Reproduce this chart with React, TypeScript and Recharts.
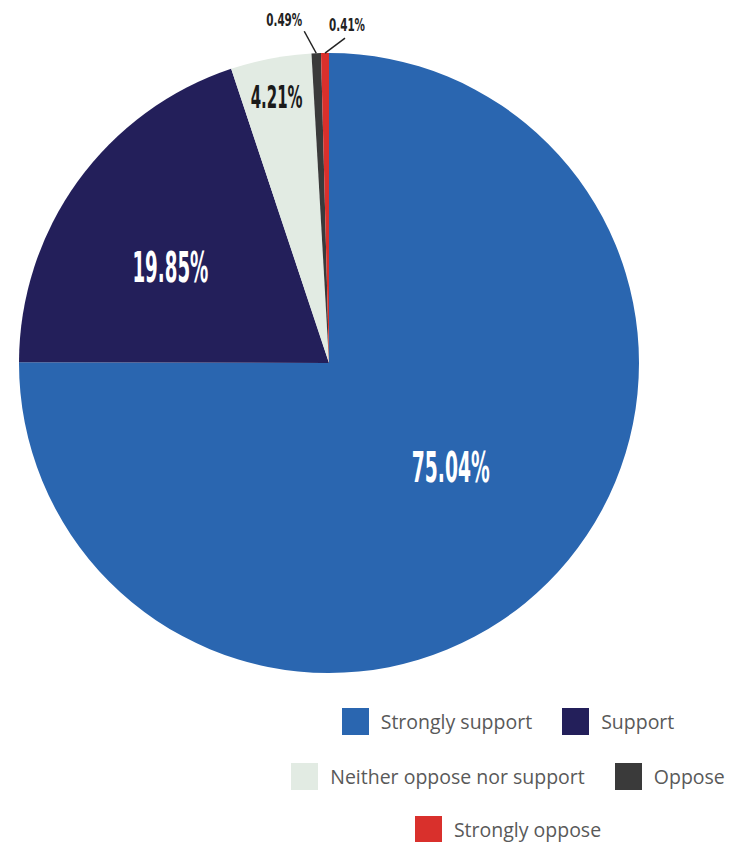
import { PieChart, Pie, Cell, Legend } from "recharts";

const categories = [
  "Strongly support",
  "Support",
  "Neither oppose nor support",
  "Oppose",
  "Strongly oppose",
];
const shares = [75.04, 19.85, 4.21, 0.49, 0.41];
const colors = ["#2a66b0", "#231f5a", "#e2ebe3", "#3a3a3a", "#d9302c"];

// legend rows as laid out in the original
const legendRows = [[0, 1], [2, 3], [4]];

const data = categories.map((name, i) => ({ name, value: shares[i] }));

const RADIAN = Math.PI / 180;
const labelFont =
  "'Liberation Sans Narrow', 'DejaVu Sans Condensed', 'Arial Narrow', sans-serif";

// label styling per slice: radius factor + angle nudge (inside), size, width, colour
const inside = [
  { r: 0.518, da: 4.4, size: 42, w: 78, fill: "#ffffff" },
  { r: 0.598, da: 4.7, size: 42, w: 76, fill: "#ffffff" },
  { r: 0.876, da: 0.3, size: 32, w: 52, fill: "#1a1a1a" },
];
// outside leader labels: line offset from rim, label offset from line end
const outside: Record<number, { dx: number; dy: number; lx: number; ly: number }> = {
  3: { dx: -12, dy: -22, lx: -20, ly: -11 },
  4: { dx: 20, dy: -15, lx: 2, ly: -13 },
};

const renderLabel = (props: any) => {
  const { cx, cy, midAngle, outerRadius, index, value } = props;
  const text = `${Number(value).toFixed(2)}%`;
  if (index < 3) {
    const s = inside[index];
    const r = outerRadius * s.r;
    const a = (midAngle + s.da) * RADIAN;
    return (
      <text
        x={cx + r * Math.cos(a)}
        y={cy - r * Math.sin(a)}
        fill={s.fill}
        textAnchor="middle"
        dominantBaseline="central"
        fontFamily={labelFont}
        fontWeight="bold"
        fontSize={s.size}
        textLength={s.w}
        lengthAdjust="spacingAndGlyphs"
      >
        {text}
      </text>
    );
  }
  const o = outside[index];
  const sx = cx + outerRadius * Math.cos(midAngle * RADIAN);
  const sy = cy - outerRadius * Math.sin(midAngle * RADIAN);
  const ex = sx + o.dx;
  const ey = sy + o.dy;
  return (
    <g>
      <line x1={sx} y1={sy} x2={ex} y2={ey} stroke="#222" strokeWidth={1.5} />
      <text
        x={ex + o.lx}
        y={ey + o.ly}
        fill="#222"
        textAnchor="middle"
        dominantBaseline="central"
        fontFamily={labelFont}
        fontWeight="bold"
        fontSize={17}
        textLength={36}
        lengthAdjust="spacingAndGlyphs"
      >
        {text}
      </text>
    </g>
  );
};

const renderLegend = () => (
  <div style={{ fontFamily: "'Open Sans', sans-serif", fontSize: 19.5, color: "#595959" }}>
    {legendRows.map((row, ri) => (
      <div
        key={ri}
        style={{
          display: "flex",
          justifyContent: "center",
          alignItems: "center",
          gap: 30,
          height: 27,
          marginBottom: ri === 1 ? 26 : 28,
        }}
      >
        {row.map((i) => (
          <div key={i} style={{ display: "flex", alignItems: "center", whiteSpace: "nowrap" }}>
            <span
              style={{
                display: "inline-block",
                width: 27,
                height: 27,
                background: colors[i],
                marginRight: 12,
              }}
            />
            <span>{categories[i]}</span>
          </div>
        ))}
      </div>
    ))}
  </div>
);

export default function App() {
  return (
    <div style={{ position: "absolute", left: 0, top: 0, background: "#fff" }}>
      <PieChart width={732} height={842} margin={{ top: 0, right: 0, bottom: 0, left: 0 }}>
        <Pie
          data={data}
          dataKey="value"
          nameKey="name"
          cx={329}
          cy={363}
          outerRadius={310}
          startAngle={90}
          endAngle={-270}
          stroke="none"
          label={renderLabel}
          labelLine={false}
          isAnimationActive={false}
        >
          {data.map((_, i) => (
            <Cell key={`cell-${i}`} fill={colors[i]} />
          ))}
        </Pie>
        <Legend
          content={renderLegend}
          wrapperStyle={{ left: 270, top: 708, width: 476 }}
        />
      </PieChart>
    </div>
  );
}
